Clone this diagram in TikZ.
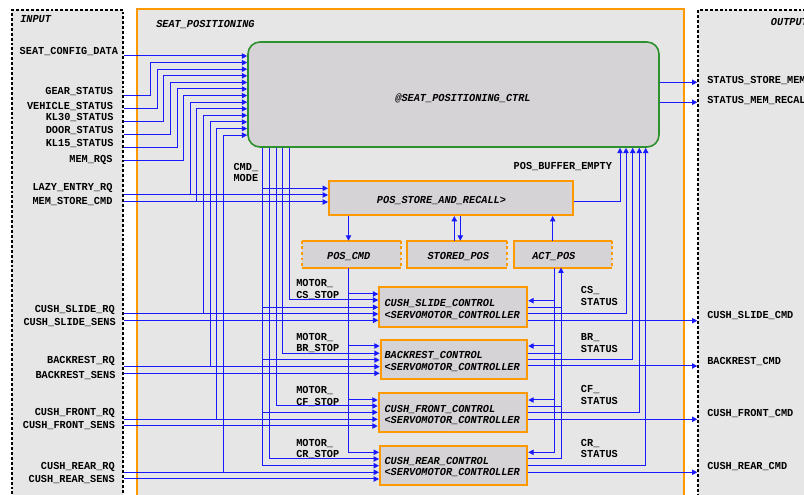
\documentclass[tikz,border=0pt]{standalone}
\usepackage{fontspec}
\setmonofont{Liberation Mono}[FakeStretch=0.96]
\usetikzlibrary{arrows.meta,fit}
\definecolor{bgg}{RGB}{230,230,230}
\definecolor{boxg}{RGB}{213,211,213}
\definecolor{org}{RGB}{255,153,0}
\definecolor{grn}{RGB}{45,145,45}
\definecolor{wire}{RGB}{25,25,255}
\begin{document}
\begin{tikzpicture}[x=0.75pt,y=-0.75pt,
  lbl/.style={font=\ttfamily\bfseries\fontsize{8}{8.7}\selectfont, inner sep=0pt, text height=4.6pt, text depth=0pt},
  ilbl/.style={lbl, font=\ttfamily\bfseries\itshape\fontsize{8}{8.7}\selectfont},
  ml/.style={font=\ttfamily\bfseries\fontsize{8}{8.7}\selectfont, inner sep=0pt, align=left, anchor=north west},
  iml/.style={ml, font=\ttfamily\bfseries\itshape\fontsize{8}{8.7}\selectfont},
  region/.style={fill=bgg, inner sep=0pt},
  inreg/.style={region, draw=black, line width=1pt, dash pattern=on 2.2pt off 1.5pt},
  seatreg/.style={region, draw=org, line width=1.5pt},
  ctrlst/.style={draw=grn, fill=boxg, line width=1.2pt, rounded corners=9pt, inner sep=0pt},
  obox/.style={draw=org, fill=boxg, line width=1.5pt, inner sep=0pt},
  sbox/.style={fill=boxg, inner sep=0pt},
  osol/.style={draw=org, line width=1.5pt},
  odash/.style={osol, dash pattern=on 2.2pt off 2pt},
  w/.style={draw=wire, line width=0.75pt},
  wa/.style={w, -{Triangle[length=4pt,width=4pt]}}
]
\useasboundingbox (0,0) rectangle (804,495);
\fill[white] (0,0) rectangle (804,495);

% regions
\node[inreg, fit={(12,10) (123,530)}] (inbox) {};
\node[seatreg, fit={(137,9) (684,530)}] (seat) {};
\node[inreg, fit={(698,10) (840,530)}] (outbox) {};
\node[ilbl, anchor=west] (inlab) at (20,19.3) {INPUT};
\node[ilbl, anchor=west] (seatlab) at (156,24.7) {SEAT\_POSITIONING};
\node[ilbl, anchor=west] (outlab) at (770.7,22) {OUTPUT};

% main blocks
\node[ctrlst, fit={(248,42) (659,147)}] (ctrl) {};
\node[ilbl] (ctrltxt) at (463,98) {@SEAT\_POSITIONING\_CTRL};
\node[obox, fit={(329,181) (573,215)}] (posstore) {};
\node[ilbl] (posstoretxt) at (441.5,200) {POS\_STORE\_AND\_RECALL>};

\node[sbox, fit={(302,241) (401,267.3)}] (poscmd) {};
\node[sbox, fit={(407.7,241) (506.7,267.3)}] (storedpos) {};
\node[sbox, fit={(514,241) (611.7,267.3)}] (actpos) {};
\draw[osol] (poscmd.north west) -- (poscmd.north east) (poscmd.south west) -- (poscmd.south east);
\draw[odash] (poscmd.north west) -- (poscmd.south west) (poscmd.north east) -- (poscmd.south east);
\draw[osol] (storedpos.south east) -- (storedpos.south west) -- (storedpos.north west) -- (storedpos.north east);
\draw[odash] (storedpos.north east) -- (storedpos.south east);
\draw[osol] (actpos.south east) -- (actpos.south west) -- (actpos.north west) -- (actpos.north east);
\draw[odash] (actpos.north east) -- (actpos.south east);
\node[ilbl] (poscmdtxt) at (348.7,256) {POS\_CMD};
\node[ilbl] (storedpostxt) at (458.3,256) {STORED\_POS};
\node[ilbl] (actpostxt) at (553.8,256) {ACT\_POS};

\node[obox, fit={(379.3,286.7) (527.3,326.7)}] (cs) {};
\node[obox, fit={(380.7,340) (527.3,379.3)}] (br) {};
\node[obox, fit={(378.7,392.7) (527.3,432)}] (cf) {};
\node[obox, fit={(380,446) (527.3,485)}] (cr) {};
\node[iml] (cstxt) at (384.3,299.2) {CUSH\_SLIDE\_CONTROL\\<SERVOMOTOR\_CONTROLLER};
\node[iml] (brtxt) at (384.3,351.2) {BACKREST\_CONTROL\\<SERVOMOTOR\_CONTROLLER};
\node[iml] (cftxt) at (384.3,404.6) {CUSH\_FRONT\_CONTROL\\<SERVOMOTOR\_CONTROLLER};
\node[iml] (crtxt) at (384.3,456.9) {CUSH\_REAR\_CONTROL\\<SERVOMOTOR\_CONTROLLER};

% input labels
\node[lbl, anchor=east] (i1) at (118.3,51.7) {SEAT\_CONFIG\_DATA};
\node[lbl, anchor=east] (i2) at (113.3,91) {GEAR\_STATUS};
\node[lbl, anchor=east] (i3) at (113.3,106.7) {VEHICLE\_STATUS};
\node[lbl, anchor=east] (i4) at (113.7,117.3) {KL30\_STATUS};
\node[lbl, anchor=east] (i5) at (113.7,130.7) {DOOR\_STATUS};
\node[lbl, anchor=east] (i6) at (113.7,143.7) {KL15\_STATUS};
\node[lbl, anchor=east] (i7) at (112.7,159) {MEM\_RQS};
\node[lbl, anchor=east] (i8) at (112.7,187.3) {LAZY\_ENTRY\_RQ};
\node[lbl, anchor=east] (i9) at (112.7,201.7) {MEM\_STORE\_CMD};
\node[lbl, anchor=east] (i10) at (115,309.3) {CUSH\_SLIDE\_RQ};
\node[lbl, anchor=east] (i11) at (116,322.7) {CUSH\_SLIDE\_SENS};
\node[lbl, anchor=east] (i12) at (115,360.7) {BACKREST\_RQ};
\node[lbl, anchor=east] (i13) at (115.7,375) {BACKREST\_SENS};
\node[lbl, anchor=east] (i14) at (115,412) {CUSH\_FRONT\_RQ};
\node[lbl, anchor=east] (i15) at (115.3,425.7) {CUSH\_FRONT\_SENS};
\node[lbl, anchor=east] (i16) at (115,466.3) {CUSH\_REAR\_RQ};
\node[lbl, anchor=east] (i17) at (115,479.7) {CUSH\_REAR\_SENS};

% output labels
\node[lbl, anchor=west] (o1) at (707,80) {STATUS\_STORE\_MEM};
\node[lbl, anchor=west] (o2) at (707,100.7) {STATUS\_MEM\_RECAL};
\node[lbl, anchor=west] (o3) at (707,315.7) {CUSH\_SLIDE\_CMD};
\node[lbl, anchor=west] (o4) at (707,361.7) {BACKREST\_CMD};
\node[lbl, anchor=west] (o5) at (707,413.7) {CUSH\_FRONT\_CMD};
\node[lbl, anchor=west] (o6) at (707,466.3) {CUSH\_REAR\_CMD};

% signal labels
\node[ml] (cmdmode) at (233.3,162.7) {CMD\_\\MODE};
\node[lbl, anchor=east] (pbe) at (612.3,166.7) {POS\_BUFFER\_EMPTY};
\node[ml] (csstop) at (296,279.3) {MOTOR\_\\CS\_STOP};
\node[ml] (brstop) at (296,332.7) {MOTOR\_\\BR\_STOP};
\node[ml] (cfstop) at (296,386) {MOTOR\_\\CF\_STOP};
\node[ml] (crstop) at (296,438.7) {MOTOR\_\\CR\_STOP};
\node[ml] (csstat) at (580.7,286.3) {CS\_\\STATUS};
\node[ml] (brstat) at (580.7,333.7) {BR\_\\STATUS};
\node[ml] (cfstat) at (580.7,385.3) {CF\_\\STATUS};
\node[ml] (crstat) at (580.7,438.7) {CR\_\\STATUS};

% inputs into controller
\draw[wa] (inbox.east |- 0,56) -- (ctrl.west |- 0,56);
\foreach \sy/\vx/\ay in {96/150.7/62.6, 109/157.3/69.2, 122/163.9/75.8, 135/170.5/82.4, 148/177.1/89, 161/183.7/95.6}
  \draw[wa] (inbox.east |- 0,\sy) -| (\vx,\ay) -- (ctrl.west |- 0,\ay);
\foreach \sy/\vx/\ay in {195/190.3/102.2, 202/196.9/108.8, 314/203.5/115.4, 366.7/210.1/122, 419.3/216.7/128.6, 472.3/223.3/135.2}
  \draw[wa] (\vx,\sy) |- (ctrl.west |- 0,\ay);

% inputs into blocks
\draw[wa] (inbox.east |- 0,195) -- (posstore.west |- 0,195);
\draw[wa] (inbox.east |- 0,202) -- (posstore.west |- 0,202);
\draw[wa] (inbox.east |- 0,314) -- (cs.west |- 0,314);
\draw[wa] (inbox.east |- 0,320.3) -- (cs.west |- 0,320.3);
\draw[wa] (inbox.east |- 0,366.7) -- (br.west |- 0,366.7);
\draw[wa] (inbox.east |- 0,373.3) -- (br.west |- 0,373.3);
\draw[wa] (inbox.east |- 0,419.3) -- (cf.west |- 0,419.3);
\draw[wa] (inbox.east |- 0,426) -- (cf.west |- 0,426);
\draw[wa] (inbox.east |- 0,472.3) -- (cr.west |- 0,472.3);
\draw[wa] (inbox.east |- 0,479) -- (cr.west |- 0,479);

% controller outputs downwards
\draw[wa] (ctrl.south -| 262.5,0) |- (cr.west |- 0,465.7);
\draw[wa] (262.5,188.3) -- (posstore.west |- 0,188.3);
\draw[wa] (262.5,307.3) -- (cs.west |- 0,307.3);
\draw[wa] (262.5,360) -- (br.west |- 0,360);
\draw[wa] (262.5,412.3) -- (cf.west |- 0,412.3);
\draw[wa] (ctrl.south -| 269.3,0) |- (cr.west |- 0,459);
\draw[wa] (ctrl.south -| 276,0) |- (cf.west |- 0,406);
\draw[wa] (ctrl.south -| 282.7,0) |- (br.west |- 0,353.3);
\draw[wa] (ctrl.south -| 289.3,0) |- (cs.west |- 0,300);

% POS_CMD
\draw[wa] (posstore.south -| 348.5,0) -- (poscmd.north -| 348.5,0);
\draw[wa] (poscmd.south -| 348.5,0) |- (cr.west |- 0,452.3);
\draw[wa] (348.5,294) -- (cs.west |- 0,294);
\draw[wa] (348.5,346) -- (br.west |- 0,346);
\draw[wa] (348.5,400) -- (cf.west |- 0,400);

% STORED_POS and ACT_POS
\draw[wa] (storedpos.north -| 454.3,0) -- (posstore.south -| 454.3,0);
\draw[wa] (posstore.south -| 460.3,0) -- (storedpos.north -| 460.3,0);
\draw[wa] (actpos.north -| 552.7,0) -- (posstore.south -| 552.7,0);
\draw[wa] (posstore.east |- 0,201.7) -| (ctrl.south -| 620,0);

\draw[wa] (actpos.south -| 554,0) |- (cr.east |- 0,452.3);
\draw[wa] (554,300.7) -- (cs.east |- 0,300.7);
\draw[wa] (554,346) -- (br.east |- 0,346);
\draw[wa] (554,400) -- (cf.east |- 0,400);
\draw[wa] (cr.east |- 0,458.7) -| (actpos.south -| 561,0);
\draw[w] (cs.east |- 0,307.3) -- (561,307.3);
\draw[w] (br.east |- 0,353.3) -- (561,353.3);
\draw[w] (cf.east |- 0,406.3) -- (561,406.3);

% status to controller
\draw[wa] (cs.east |- 0,314) -| (ctrl.south -| 626,0);
\draw[wa] (br.east |- 0,360) -| (ctrl.south -| 632.7,0);
\draw[wa] (cf.east |- 0,412.3) -| (ctrl.south -| 639.3,0);
\draw[wa] (cr.east |- 0,465.7) -| (ctrl.south -| 645.7,0);

% outputs
\draw[wa] (ctrl.east |- 0,82.3) -- (outbox.west |- 0,82.3);
\draw[wa] (ctrl.east |- 0,102.3) -- (outbox.west |- 0,102.3);
\draw[wa] (cs.east |- 0,320.7) -- (outbox.west |- 0,320.7);
\draw[wa] (br.east |- 0,366) -- (outbox.west |- 0,366);
\draw[wa] (cf.east |- 0,419.3) -- (outbox.west |- 0,419.3);
\draw[wa] (cr.east |- 0,472.3) -- (outbox.west |- 0,472.3);
\end{tikzpicture}
\end{document}
